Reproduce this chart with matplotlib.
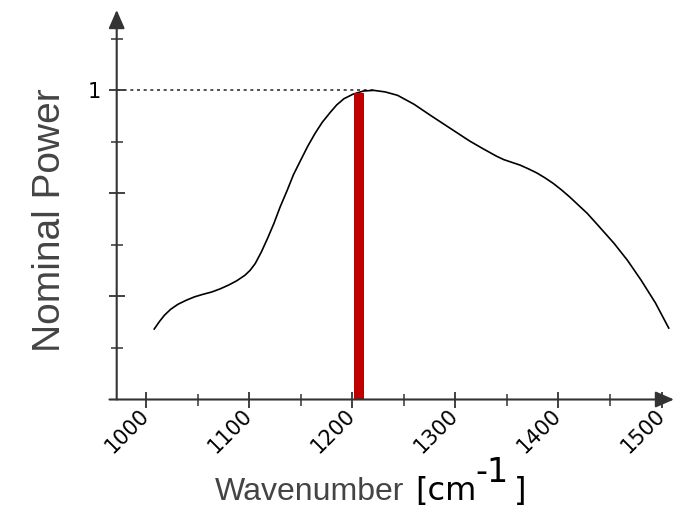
import matplotlib
matplotlib.use("Agg")
import matplotlib.pyplot as plt
from matplotlib.ticker import FixedLocator

# spectrum
wavenumber = [1008, 1013, 1018, 1024, 1031, 1039, 1047, 1055, 1064, 1072,
              1080, 1088, 1096, 1101, 1106, 1112, 1118, 1124, 1130, 1137,
              1143, 1150, 1157, 1164, 1171, 1179, 1185, 1192, 1201, 1211,
              1221, 1232, 1244, 1260, 1276, 1292, 1303, 1314, 1327, 1340,
              1347, 1355, 1363, 1371, 1379, 1387, 1395, 1403, 1411, 1419,
              1428, 1438, 1454, 1467, 1480, 1494, 1507]
power = [0.228, 0.252, 0.273, 0.292, 0.308, 0.321, 0.332, 0.340, 0.348, 0.358,
         0.370, 0.384, 0.402, 0.418, 0.440, 0.478, 0.522, 0.569, 0.622, 0.677,
         0.727, 0.774, 0.820, 0.861, 0.897, 0.930, 0.953, 0.973, 0.988, 0.998,
         1.000, 0.995, 0.984, 0.955, 0.919, 0.884, 0.860, 0.836, 0.811, 0.787,
         0.776, 0.767, 0.758, 0.746, 0.733, 0.717, 0.699, 0.678, 0.655, 0.630,
         0.602, 0.565, 0.505, 0.450, 0.387, 0.313, 0.231]

# red line (laser band)
band_left = 1202
band_width = 9.5
band_height = 0.99

peak_x = 1221
x_ticks = [1000, 1100, 1200, 1300, 1400, 1500]
x_minor = [1050, 1150, 1250, 1350, 1450]
y_ticks = [1/3, 2/3, 1]
y_labels = ["", "", "1"]
y_minor = [1/6, 1/2, 5/6, 7/6]

axis_col = "#333333"
label_col = "#444444"

fig = plt.figure(figsize=(6.74, 5.07), dpi=100)
ax = fig.add_axes([116.7/674, 1 - 399.5/507, 1 - 116.7/674, (399.5 - 10)/507])
ax.set_xlim(971.6, 1512.1)
ax.set_ylim(0, 1.26)

for s in ax.spines.values():
    s.set_visible(False)

ax.plot(wavenumber, power, color="black", lw=1.2, zorder=2)
ax.bar(band_left, band_height, width=band_width, align="edge",
       color="#c00000", zorder=3)
ax.plot([971.6, peak_x], [1, 1], color=axis_col, lw=1.2,
        linestyle=(0, (1.8, 2.2)), zorder=1)

# axes with arrow heads
arrow = dict(arrowstyle="-|>,head_length=0.8,head_width=0.35", color=axis_col,
             lw=1.5, shrinkA=0, shrinkB=0, mutation_scale=14)
ax.annotate("", xy=(1.0, 0), xytext=(-0.013, 0), xycoords="axes fraction",
            arrowprops=arrow, annotation_clip=False)
ax.annotate("", xy=(0, 1.0), xytext=(0, 0), xycoords="axes fraction",
            arrowprops=arrow, annotation_clip=False)

ax.xaxis.set_major_locator(FixedLocator(x_ticks))
ax.xaxis.set_minor_locator(FixedLocator(x_minor))
ax.yaxis.set_major_locator(FixedLocator(y_ticks))
ax.yaxis.set_minor_locator(FixedLocator(y_minor))
ax.set_xticklabels([str(t) for t in x_ticks], fontsize=15, rotation=45,
                   ha="right", va="center", rotation_mode="anchor")
ax.set_yticklabels(y_labels, fontsize=15)

ax.tick_params(which="major", direction="inout", length=12, width=1.3,
               color=axis_col, labelcolor="black")
ax.tick_params(which="minor", direction="inout", length=8, width=1.1,
               color=axis_col)
ax.tick_params(axis="x", which="major", pad=3)
ax.tick_params(axis="y", which="major", pad=5)

fig.text(50/674, 1 - 220/507, "Nominal Power", rotation=90, ha="center",
         va="center", fontsize=28, color=label_col, family="Liberation Sans")

# x label: gray word, then black unit with a big superscript
t1 = fig.text(215/674, 1 - 500/507, "Wavenumber", ha="left", va="baseline",
              fontsize=23, color=label_col, family="Liberation Sans")
t2 = ax.annotate("[cm", xy=(1, 0), xycoords=t1, xytext=(8, 0),
                 textcoords="offset points", ha="left", va="bottom",
                 fontsize=23, color="black", family="DejaVu Sans")
t3 = ax.annotate("-1", xy=(1, 0), xycoords=t2, xytext=(-1, 13),
                 textcoords="offset points", ha="left", va="bottom",
                 fontsize=24, color="black", family="DejaVu Sans")
ax.annotate("]", xy=(1, 0), xycoords=(t3, t2), xytext=(4, 0),
            textcoords="offset points", ha="left", va="bottom",
            fontsize=23, color="black", family="DejaVu Sans")

fig.savefig("out.png", dpi=100)
